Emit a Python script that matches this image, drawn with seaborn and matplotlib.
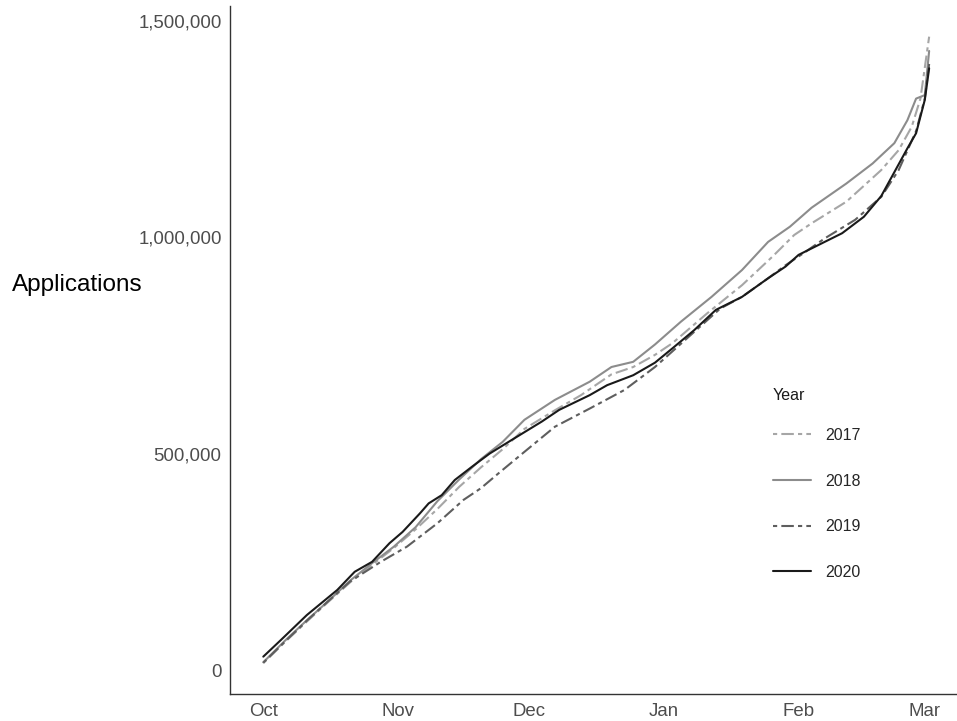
import matplotlib
matplotlib.use("Agg")
import matplotlib.pyplot as plt
import matplotlib.ticker as mticker
import matplotlib.dates as mdates
import seaborn as sns
import pandas as pd

# days since 1 Oct, cumulative applications (thousands)
days_2017 = [0, 5, 10, 15, 20, 25, 30, 35, 40, 45, 50, 55, 60, 67, 73, 80, 85, 90, 94,
             102, 110, 117, 122, 126, 134, 142, 146, 149, 151, 153]
apps_2017 = [16, 65, 112, 158, 203, 243, 282, 325, 372, 423, 468, 510, 557, 600, 635, 683,
             700, 728, 755, 824, 889, 955, 1005, 1032, 1082, 1155, 1201, 1255, 1320, 1463]

days_2018 = [0, 5, 10, 15, 20, 25, 30, 35, 40, 45, 50, 55, 60, 67, 75, 80, 85, 90, 96,
             103, 110, 116, 121, 126, 134, 140, 145, 148, 150, 152, 153]
apps_2018 = [18, 68, 115, 160, 207, 247, 285, 330, 390, 440, 487, 527, 578, 624, 666, 700,
             712, 752, 805, 862, 924, 989, 1024, 1068, 1124, 1170, 1217, 1270, 1320, 1328, 1430]

days_2019 = [0, 5, 10, 15, 20, 27, 33, 40, 46, 50, 54, 60, 67, 75, 83, 90, 95, 100, 105,
             110, 116, 120, 124, 129, 136, 142, 146, 150, 152, 153]
apps_2019 = [17, 66, 114, 160, 205, 250, 285, 339, 393, 420, 454, 504, 562, 604, 647, 700,
             745, 790, 835, 862, 905, 935, 962, 997, 1040, 1093, 1155, 1245, 1320, 1400]

days_2020 = [0, 4, 10, 17, 21, 25, 29, 32, 36, 38, 41, 44, 48, 52, 57, 64, 68, 75, 79, 85,
             90, 94, 99, 104, 110, 116, 120, 123, 126, 133, 138, 142, 145, 148, 150, 152, 153]
apps_2020 = [31, 69, 127, 185, 227, 250, 293, 319, 362, 385, 404, 439, 470, 500, 531, 574,
             601, 635, 658, 681, 710, 743, 785, 832, 862, 905, 932, 959, 974, 1009, 1047,
             1095, 1150, 1205, 1240, 1317, 1390]

years = ["2017", "2018", "2019", "2020"]
colors = {"2017": "#A6A6A6", "2018": "#8C8C8C", "2019": "#5E5E5E", "2020": "#1A1A1A"}
dashes = {"2017": (2, 2, 6, 2), "2018": "", "2019": (2, 2, 6, 2), "2020": ""}

start = pd.Timestamp("2019-10-01")
frames = []
for yr, d, v in zip(years, [days_2017, days_2018, days_2019, days_2020],
                    [apps_2017, apps_2018, apps_2019, apps_2020]):
    frames.append(pd.DataFrame({
        "Date": start + pd.to_timedelta(d, unit="D"),
        "Applications": [x * 1000 for x in v],
        "Year": yr,
    }))
df = pd.concat(frames, ignore_index=True)

sns.set_style("white")
plt.rcParams["font.family"] = ["Liberation Sans", "DejaVu Sans"]

fig = plt.figure(figsize=(9.57, 7.21), dpi=100)
ax = fig.add_axes([230 / 957, 1 - 694.3 / 721, 1 - 230 / 957, (694.3 - 5.5) / 721])

sns.lineplot(data=df, x="Date", y="Applications", hue="Year", style="Year",
             palette=colors, dashes=dashes, hue_order=years, style_order=years,
             linewidth=1.5, ax=ax)

ax.set_xlim(start + pd.Timedelta(days=-7.65), start + pd.Timedelta(days=159.4))
ax.set_ylim(-56000, 1535000)
ax.xaxis.set_major_locator(mdates.MonthLocator())
ax.xaxis.set_major_formatter(mdates.DateFormatter("%b"))
ax.yaxis.set_major_locator(mticker.MultipleLocator(500000))
ax.yaxis.set_major_formatter(mticker.FuncFormatter(lambda v, p: f"{int(v):,}"))

ax.tick_params(axis="both", length=3, width=0.8, color="#333333",
               labelsize=13.4, labelcolor="#4D4D4D", direction="out", pad=3)
for side in ["top", "right"]:
    ax.spines[side].set_visible(False)
for side in ["left", "bottom"]:
    ax.spines[side].set_color("#333333")
    ax.spines[side].set_linewidth(1.0)

ax.set_xlabel("")
ax.set_ylabel("")
fig.text(12 / 957, 1 - 285 / 721, "Applications", fontsize=17.5, color="black",
         ha="left", va="center")

leg = ax.legend(title="Year", frameon=False, loc="upper left",
                bbox_to_anchor=(773 / 957, 1 - 388 / 721), bbox_transform=fig.transFigure,
                borderpad=0, borderaxespad=0, fontsize=11.5, title_fontsize=11.5,
                handlelength=2.4, handletextpad=0.85, labelspacing=1.92,
                alignment="left")
leg.get_title().set_color("#1A1A1A")
# gap between legend title and first key
leg._legend_box.sep = 18

fig.savefig("out.png", dpi=100)
